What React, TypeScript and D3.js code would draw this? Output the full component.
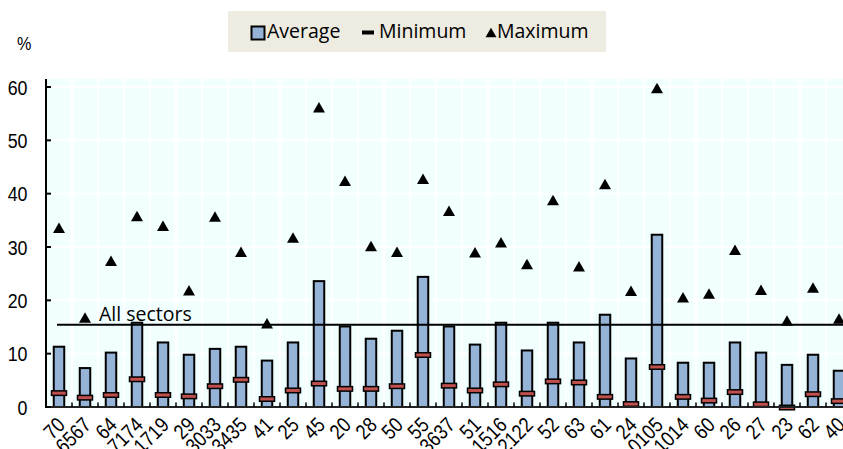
import React from "react";
import * as d3 from "d3";

const categories = ["70","6567","64","7174","1719","29","3033","3435","41","25","45","20","28","50","55","3637","51","1516","2122","52","63","61","24","0105","1014","60","26","27","23","62","40"];
const averageValues = [11.3,7.3,10.2,15.8,12.1,9.8,10.9,11.3,8.7,12.1,23.6,15.1,12.8,14.3,24.4,15.1,11.7,15.8,10.6,15.8,12.1,17.3,9.1,32.3,8.3,8.3,12.1,10.2,7.9,9.8,6.8];
const minimumValues = [2.6,1.75,2.25,5.2,2.25,2.0,3.9,5.1,1.5,3.1,4.4,3.4,3.4,3.9,9.75,4.0,3.1,4.25,2.5,4.8,4.6,1.9,0.55,7.5,1.9,1.2,2.8,0.5,-0.1,2.4,1.1];
const maximumValues = [33.6,16.8,27.4,35.8,34.0,21.9,35.7,29.1,15.7,31.8,56.2,42.4,30.2,29.1,42.8,36.8,29.0,30.9,26.8,38.8,26.4,41.8,21.8,59.8,20.6,21.3,29.5,22.0,16.2,22.4,16.6];
const allSectorsValue = 15.4;
const yTicks = [0,10,20,30,40,50,60];
const legendLabels = ["Average","Minimum","Maximum"];
const allSectorsLabel = "All sectors";
const unitLabel = "%";

const W = 843, H = 449;
const left = 46, top = 79, bottom = 407;
const band = 26;

const LABEL_FONT = "'Liberation Sans', Arial, sans-serif";
const TEXT_FONT = "'Open Sans', 'Noto Sans', sans-serif";

export default function App() {
  const x = d3.scaleBand<string>().domain(categories).range([left, left + band * categories.length]).paddingInner(0).paddingOuter(0);
  const y = d3.scaleLinear().domain([0, 60]).range([bottom, 87]);
  const bw = 10.5;
  const cx = (c: string) => (x(c) as number) + x.bandwidth() / 2;
  const tri = (px: number, py: number, w: number, h: number) =>
    `M${px},${py - h / 2}L${px + w / 2},${py + h / 2}L${px - w / 2},${py + h / 2}Z`;
  const right = left + band * categories.length;

  return (
    <svg width={W} height={H} style={{ position: "absolute", left: 0, top: 0, background: "#fff" }}>
      {/* plot background */}
      <rect x={left} y={top} width={right - left} height={bottom - top} fill="#F2FFFF" />
      {/* horizontal grid */}
      {yTicks.filter(t => t > 0).map(t => (
        <line key={"hg" + t} x1={left} x2={right} y1={y(t)} y2={y(t)} stroke="#fff" strokeWidth={2} />
      ))}
      {/* vertical grid */}
      {categories.slice(1).map(c => (
        <line key={"vg" + c} x1={x(c)} x2={x(c)} y1={top} y2={bottom} stroke="#fff" strokeWidth={2} />
      ))}
      {/* bars */}
      {categories.map((c, i) => (
        <rect key={"b" + c} x={cx(c) - bw / 2} y={y(averageValues[i])} width={bw} height={y(0) - y(averageValues[i])}
          fill="#95B3D7" stroke="#000" strokeWidth={2} />
      ))}
      {/* all sectors line */}
      <line x1={cx(categories[0]) - 2} x2={right} y1={y(allSectorsValue)} y2={y(allSectorsValue)} stroke="#000" strokeWidth={2} />
      <text x={cx(categories[1]) + 14} y={y(allSectorsValue) - 4} fontFamily={TEXT_FONT} fontSize={19.5} fill="#000">{allSectorsLabel}</text>
      {/* minimum markers */}
      {categories.map((c, i) => (
        <rect key={"m" + c} x={cx(c) - 7.5} y={y(minimumValues[i]) - 2.25} width={15} height={4.5}
          fill="#C0504D" stroke="#000" strokeWidth={1.5} />
      ))}
      {/* maximum markers */}
      {categories.map((c, i) => (
        <path key={"t" + c} d={tri(cx(c), y(maximumValues[i]), 12, 10.5)} fill="#000" />
      ))}
      {/* axes */}
      <line x1={left} x2={left} y1={top} y2={bottom + 1} stroke="#000" strokeWidth={2} />
      <line x1={left} x2={right} y1={bottom} y2={bottom} stroke="#222" strokeWidth={2} />
      {yTicks.map(t => (
        <g key={"yt" + t}>
          <line x1={left} x2={left + 5} y1={y(t)} y2={y(t)} stroke="#000" strokeWidth={2} />
          <text transform={`translate(27.5,${y(t)}) scale(0.85,1)`} textAnchor="end" dy="0.36em"
            fontFamily={LABEL_FONT} fontSize={21} fill="#000">{t}</text>
        </g>
      ))}
      {categories.slice(1).map(c => (
        <line key={"xt" + c} x1={x(c)} x2={x(c)} y1={bottom} y2={bottom - 4.5} stroke="#000" strokeWidth={1.5} />
      ))}
      {categories.map(c => (
        <text key={"xl" + c} transform={`translate(${cx(c) + 2},${bottom + 14}) rotate(-45) scale(0.85,1)`}
          textAnchor="end" dy="0.36em" fontFamily={LABEL_FONT} fontSize={21} fill="#000">{c}</text>
      ))}
      <text transform={`translate(17,50) scale(0.9,1)`} fontFamily={LABEL_FONT} fontSize={18} fill="#000">{unitLabel}</text>
      {/* legend */}
      <rect x={228} y={11} width={378} height={41} fill="#EEECE1" />
      <rect x={251.5} y={26.5} width={13} height={13} fill="#95B3D7" stroke="#000" strokeWidth={2} />
      <text x={267} y={38} fontFamily={TEXT_FONT} fontSize={19.5} fill="#000">{legendLabels[0]}</text>
      <rect x={362} y={30.5} width={12} height={4} fill="#000" />
      <text x={379} y={38} fontFamily={TEXT_FONT} fontSize={19.5} fill="#000">{legendLabels[1]}</text>
      <path d={tri(491, 32.5, 11, 9.5)} fill="#000" />
      <text x={497} y={38} fontFamily={TEXT_FONT} fontSize={19.5} fill="#000">{legendLabels[2]}</text>
    </svg>
  );
}
